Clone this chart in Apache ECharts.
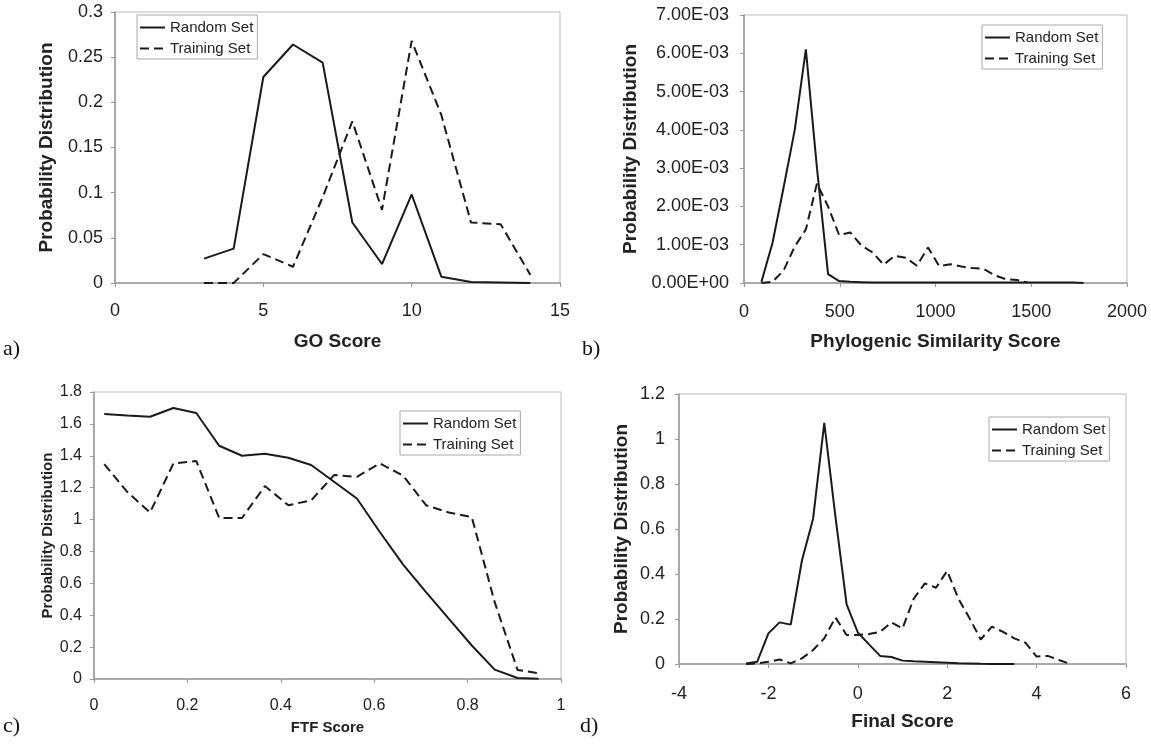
<!DOCTYPE html>
<html>
<head>
<meta charset="utf-8">
<title>Score distributions</title>
<script src="https://cdn.jsdelivr.net/npm/echarts@6/dist/echarts.min.js"></script>
<style>
  html, body { margin: 0; padding: 0; background: #fff; }
  #main { width: 1151px; height: 744px; }
</style>
</head>
<body>
<div id="main"></div>
<script>
// a) GO score
const goScore = [3, 4, 5, 6, 7, 8, 9, 10, 11, 12, 13, 14];
const goRandom = [0.027, 0.038, 0.228, 0.264, 0.244, 0.067, 0.021, 0.098, 0.007, 0.001, 0.0005, 0];
const goTraining = [0, 0, 0.032, 0.018, 0.095, 0.179, 0.081, 0.268, 0.186, 0.067, 0.065, 0.009];

// b) phylogenic similarity score
const phyloScore = [91, 149, 207, 265, 323, 381, 439, 497, 555, 613, 671, 729, 787, 845, 903,
  961, 1019, 1077, 1135, 1193, 1251, 1309, 1367, 1425, 1483, 1541, 1599, 1657, 1715, 1773];
const phyloRandom = [0.00003, 0.00105, 0.0025, 0.004, 0.0061, 0.003, 0.00023, 0.00005, 0.00003, 0.00002,
  0.00001, 0.00001, 0.00001, 0.00001, 0.00001, 0.00001, 0.00001, 0.00001, 0.00001, 0.00001,
  0.00001, 0.00001, 0.00001, 0.00001, 0.00001, 0.00001, 0.00001, 0.00001, 0.00001, 0];
const phyloTraining = [0, 0.00003, 0.00033, 0.00095, 0.0014, 0.0026, 0.002, 0.00125, 0.00132, 0.00098,
  0.0008, 0.00048, 0.00071, 0.00066, 0.00045, 0.00093, 0.00044, 0.00049, 0.00043, 0.00039,
  0.00037, 0.0002, 0.0001, 0.00008, 0.00001];

// c) FTF score
const ftfScore = [0.022, 0.071, 0.12, 0.17, 0.219, 0.268, 0.317, 0.366, 0.416, 0.465,
  0.514, 0.563, 0.612, 0.662, 0.711, 0.76, 0.809, 0.858, 0.907, 0.952];
const ftfRandom = [1.662, 1.652, 1.645, 1.7, 1.668, 1.463, 1.4, 1.413, 1.388, 1.342,
  1.237, 1.132, 0.922, 0.717, 0.545, 0.377, 0.21, 0.059, 0.006, 0.002];
const ftfTraining = [1.348, 1.174, 1.044, 1.352, 1.367, 1.01, 1.01, 1.21, 1.09, 1.12,
  1.279, 1.268, 1.352, 1.275, 1.09, 1.044, 1.015, 0.482, 0.057, 0.036];

// d) final score
const finalScore = [-2.5, -2.25, -2, -1.75, -1.5, -1.25, -1, -0.75, -0.5, -0.25, 0, 0.25, 0.5, 0.75, 1,
  1.25, 1.5, 1.75, 2, 2.25, 2.5, 2.75, 3, 3.25, 3.5, 3.75, 4, 4.25, 4.5, 4.75];
const finalRandom = [0.002, 0.01, 0.136, 0.185, 0.175, 0.46, 0.646, 1.072, 0.654, 0.265, 0.14, 0.087,
  0.036, 0.031, 0.015, 0.012, 0.01, 0.008, 0.006, 0.003, 0.002, 0.001, 0.0005, 0.0002, 0];
const finalTraining = [0, 0.003, 0.01, 0.02, 0.003, 0.025, 0.062, 0.114, 0.207, 0.129, 0.129, 0.133,
  0.143, 0.185, 0.158, 0.29, 0.358, 0.339, 0.414, 0.291, 0.203, 0.109, 0.166, 0.143, 0.114,
  0.095, 0.033, 0.036, 0.018, 0];

const FONT = "'Liberation Sans', Arial, sans-serif";
const INK = "#1a1a1a";

const pairs = (xs, ys) => ys.map((y, i) => [xs[i], y]);

function sci(v) {
  if (v === 0) return "0.00E+00";
  const e = Math.floor(Math.log10(Math.abs(v)) + 1e-9);
  const m = v / Math.pow(10, e);
  return m.toFixed(2) + "E" + (e < 0 ? "-" : "+") + String(Math.abs(e)).padStart(2, "0");
}
const plain = v => String(+v.toFixed(6));

// one entry per panel: grid box, axes, label sizes
const panels = [
  { grid: [115, 12, 445, 271], x: [0, 15, 5], y: [0, 0.3, 0.05], xName: "GO Score",
    tick: 18, title: 19, xMargin: 19, yMargin: 12, xGap: 49, yGap: 59,
    legend: [137, 15], random: pairs(goScore, goRandom), training: pairs(goScore, goTraining) },
  { grid: [744, 15, 383, 268], x: [0, 2000, 500], y: [0, 0.007, 0.001], xName: "Phylogenic Similarity Score",
    tick: 18, title: 19, xMargin: 20, yMargin: 15, xGap: 49, yGap: 104, fmt: sci,
    legend: [982, 25], random: pairs(phyloScore, phyloRandom), training: pairs(phyloScore, phyloTraining) },
  { grid: [94, 392, 467, 287], x: [0, 1, 0.2], y: [0, 1.8, 0.2], xName: "FTF Score",
    tick: 16, title: 15, xMargin: 19, yMargin: 12, xGap: 41, yGap: 39,
    legend: [400, 411], random: pairs(ftfScore, ftfRandom), training: pairs(ftfScore, ftfTraining) },
  { grid: [679, 394, 447, 270], x: [-4, 6, 2], y: [0, 1.2, 0.2], xName: "Final Score",
    tick: 18, title: 19, xMargin: 21, yMargin: 14, xGap: 48, yGap: 48,
    legend: [989, 417], random: pairs(finalScore, finalRandom), training: pairs(finalScore, finalTraining) }
];

const axisCommon = {
  type: "value",
  splitLine: { show: false },
  axisLine: { show: true, onZero: false, lineStyle: { color: "#999", width: 1.5 } },
  axisTick: { show: true, inside: false, length: 4, lineStyle: { color: "#999" } },
  nameLocation: "middle"
};

const grid = panels.map(p => ({
  left: p.grid[0], top: p.grid[1], width: p.grid[2], height: p.grid[3],
  show: true, borderColor: "#bbb", borderWidth: 1, backgroundColor: "transparent"
}));

const xAxis = panels.map((p, i) => ({
  ...axisCommon,
  gridIndex: i,
  min: p.x[0], max: p.x[1], interval: p.x[2],
  name: p.xName, nameGap: p.xGap,
  nameTextStyle: { fontFamily: FONT, fontSize: p.title, fontWeight: "bold", color: "#222" },
  axisLabel: { fontFamily: FONT, fontSize: p.tick, color: "#222", margin: p.xMargin, formatter: plain }
}));

const yAxis = panels.map((p, i) => ({
  ...axisCommon,
  gridIndex: i,
  min: p.y[0], max: p.y[1], interval: p.y[2],
  name: "Probability Distribution", nameGap: p.yGap, nameRotate: 90,
  nameTextStyle: { fontFamily: FONT, fontSize: p.title, fontWeight: "bold", color: "#222" },
  axisLabel: { fontFamily: FONT, fontSize: p.tick, color: "#222", margin: p.yMargin,
    formatter: p.fmt || plain }
}));

const series = [];
panels.forEach((p, i) => {
  series.push({
    name: "Random Set", type: "line", xAxisIndex: i, yAxisIndex: i,
    data: p.random, symbol: "none",
    lineStyle: { color: INK, width: 2, type: "solid" }, itemStyle: { color: INK }
  });
  series.push({
    name: "Training Set", type: "line", xAxisIndex: i, yAxisIndex: i,
    data: p.training, symbol: "none",
    lineStyle: { color: INK, width: 2, type: [9, 5] }, itemStyle: { color: INK }
  });
});

const legend = panels.map(p => ({
  data: ["Random Set", "Training Set"],
  left: p.legend[0], top: p.legend[1],
  orient: "vertical",
  itemWidth: 25, itemHeight: 14, itemGap: 6,
  padding: [5, 4, 3, 2],
  backgroundColor: "#fff", borderColor: "#aaa", borderWidth: 1, borderRadius: 0,
  itemStyle: { opacity: 0 },
  textStyle: { fontFamily: FONT, fontSize: 15, color: "#222" },
  selectedMode: false
}));

const tags = [["a)", 3, 350], ["b)", 582, 350], ["c)", 3, 727], ["d)", 580, 727]];
const graphic = tags.map(([t, x, y]) => ({
  type: "text", left: x, top: y - 12,
  style: { text: t, font: "22px 'Liberation Serif', 'Times New Roman', serif", fill: "#111" }
}));

const options = { animation: false, grid, xAxis, yAxis, series, legend, graphic };

var myChart = echarts.init(document.getElementById("main"));
myChart.setOption(options);
window.onresize = function() {
  myChart.resize();
};
</script>
</body>
</html>
